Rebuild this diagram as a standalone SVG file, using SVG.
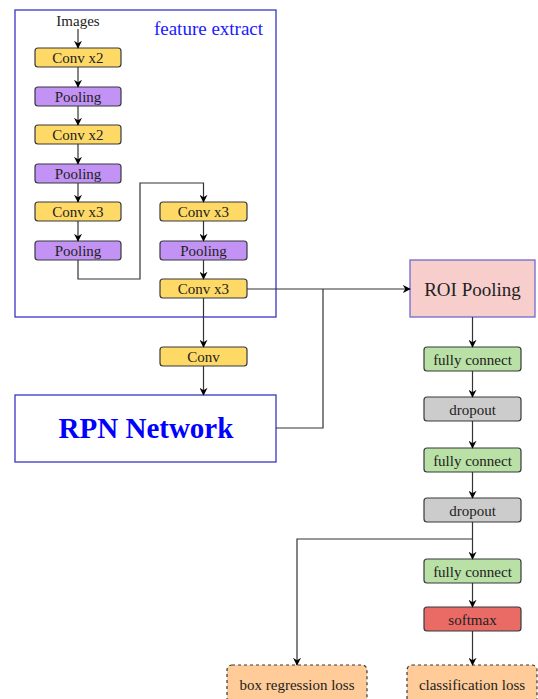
<svg xmlns="http://www.w3.org/2000/svg" width="538" height="699" viewBox="0 0 538 699">
<defs>
<marker id="arr" viewBox="0 0 10 10" refX="9" refY="5" markerWidth="8" markerHeight="8" markerUnits="userSpaceOnUse" orient="auto">
<path d="M0,0 L10,5 L0,10 L3,5 Z" fill="#000"/>
</marker>
<style>
.n{stroke:#36393d;stroke-width:1.2}
.conv{fill:#FFD966}
.pool{fill:#C292F5}
.fc{fill:#B9E0A5}
.drop{fill:#CCCCCC}
.soft{fill:#EA6B66}
.loss{fill:#FFCC99;stroke:#36393d;stroke-width:1.2;stroke-dasharray:3 3}
.t{font-family:"Liberation Serif","Times New Roman",serif;font-size:15px;fill:#222;text-anchor:middle}
.e{fill:none;stroke:#333;stroke-width:1.2}
</style>
</defs>
<rect width="538" height="699" fill="#fff"/>

<g id="feature-extract">
<rect x="15" y="10" width="261" height="307" fill="none" stroke="#3838c4" stroke-width="1.3"/>
<text x="208.5" y="35" class="t" style="font-size:19px;fill:#1a1aff">feature extract</text>
</g>

<g id="images"><text x="78" y="26" class="t">Images</text></g>

<g id="conv1"><rect x="35" y="48" width="86" height="19" rx="3" class="n conv"/><text x="78" y="63" class="t">Conv x2</text></g>
<g id="pool1"><rect x="35" y="87" width="86" height="19" rx="3" class="n pool"/><text x="78" y="102" class="t">Pooling</text></g>
<g id="conv2"><rect x="35" y="125" width="86" height="19" rx="3" class="n conv"/><text x="78" y="140" class="t">Conv x2</text></g>
<g id="pool2"><rect x="35" y="164" width="86" height="19" rx="3" class="n pool"/><text x="78" y="179" class="t">Pooling</text></g>
<g id="conv3"><rect x="35" y="202" width="86" height="19" rx="3" class="n conv"/><text x="78" y="217" class="t">Conv x3</text></g>
<g id="pool3"><rect x="35" y="241" width="86" height="19" rx="3" class="n pool"/><text x="78" y="256" class="t">Pooling</text></g>
<g id="conv4"><rect x="160" y="202" width="87" height="19" rx="3" class="n conv"/><text x="203.5" y="217" class="t">Conv x3</text></g>
<g id="pool4"><rect x="160" y="241" width="87" height="19" rx="3" class="n pool"/><text x="203.5" y="256" class="t">Pooling</text></g>
<g id="conv5"><rect x="160" y="279" width="87" height="19" rx="3" class="n conv"/><text x="203.5" y="294" class="t">Conv x3</text></g>
<g id="conv-rpn"><rect x="160" y="347" width="87" height="19" rx="3" class="n conv"/><text x="203.5" y="362" class="t">Conv</text></g>

<g id="rpn">
<rect x="15" y="395" width="261" height="67" fill="#fff" stroke="#3838c4" stroke-width="1.3"/>
<text x="146" y="438" class="t" style="font-size:29px;font-weight:bold;fill:#0000ff">RPN Network</text>
</g>

<g id="roi">
<rect x="410" y="260" width="125" height="57" fill="#F8CECC" stroke="#6a6ad0" stroke-width="1.3"/>
<text x="472.5" y="296" class="t" style="font-size:19px">ROI Pooling</text>
</g>

<g id="fc1"><rect x="424" y="347" width="97" height="24" rx="3" class="n fc"/><text x="472.5" y="364.5" class="t">fully connect</text></g>
<g id="drop1"><rect x="424" y="397" width="97" height="24" rx="3" class="n drop"/><text x="472.5" y="414.5" class="t">dropout</text></g>
<g id="fc2"><rect x="424" y="448" width="97" height="24" rx="3" class="n fc"/><text x="472.5" y="465.5" class="t">fully connect</text></g>
<g id="drop2"><rect x="424" y="498" width="97" height="24" rx="3" class="n drop"/><text x="472.5" y="515.5" class="t">dropout</text></g>
<g id="fc3"><rect x="424" y="559" width="97" height="24" rx="3" class="n fc"/><text x="472.5" y="576.5" class="t">fully connect</text></g>
<g id="softmax"><rect x="424" y="607" width="97" height="24" rx="3" class="n soft"/><text x="472.5" y="624.5" class="t">softmax</text></g>

<g id="box-loss"><rect x="227" y="665" width="140" height="40" rx="5" class="loss"/><text x="297" y="690" class="t">box regression loss</text></g>
<g id="cls-loss"><rect x="407" y="665" width="130" height="40" rx="5" class="loss"/><text x="472" y="690" class="t">classification loss</text></g>

<g id="connectors">
<path d="M78,29 V48" class="e" marker-end="url(#arr)"/>
<path d="M78,67 V87" class="e" marker-end="url(#arr)"/>
<path d="M78,106 V125" class="e" marker-end="url(#arr)"/>
<path d="M78,144 V164" class="e" marker-end="url(#arr)"/>
<path d="M78,183 V202" class="e" marker-end="url(#arr)"/>
<path d="M78,221 V241" class="e" marker-end="url(#arr)"/>
<path d="M78,260 V279 H140 V183 H203.5 V202" class="e" marker-end="url(#arr)"/>
<path d="M203.5,221 V241" class="e" marker-end="url(#arr)"/>
<path d="M203.5,260 V279" class="e" marker-end="url(#arr)"/>
<path d="M203.5,298 V347" class="e" marker-end="url(#arr)"/>
<path d="M203.5,366 V395" class="e" marker-end="url(#arr)"/>
<path d="M247,289 H410" class="e" marker-end="url(#arr)"/>
<path d="M276,428 H323 V289" class="e"/>
<path d="M472.5,317 V347" class="e" marker-end="url(#arr)"/>
<path d="M472.5,371 V397" class="e" marker-end="url(#arr)"/>
<path d="M472.5,421 V448" class="e" marker-end="url(#arr)"/>
<path d="M472.5,472 V498" class="e" marker-end="url(#arr)"/>
<path d="M472.5,522 V559" class="e" marker-end="url(#arr)"/>
<path d="M472.5,539 H297 V665" class="e" marker-end="url(#arr)"/>
<path d="M472.5,583 V607" class="e" marker-end="url(#arr)"/>
<path d="M472.5,631 V665" class="e" marker-end="url(#arr)"/>
</g>
</svg>
